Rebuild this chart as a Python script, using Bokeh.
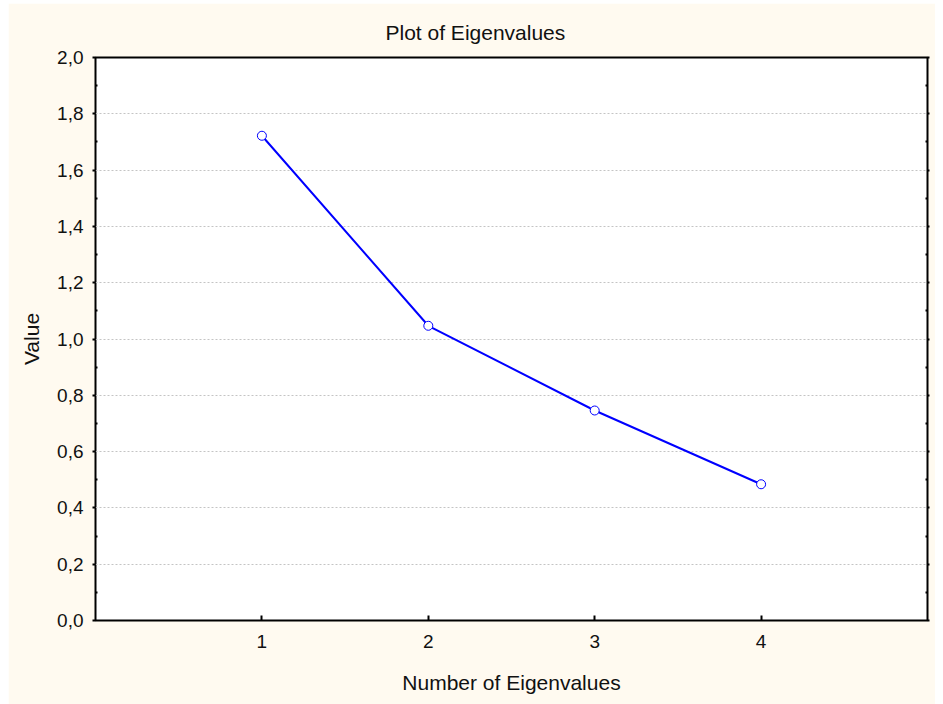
from bokeh.plotting import figure
from bokeh.models import FixedTicker, LinearAxis, CustomJSTickFormatter, Title
from bokeh.embed import file_html
from bokeh.resources import INLINE

# Data
eig_number = [1, 2, 3, 4]
eig_value = [1.722, 1.047, 0.746, 0.484]
y_ticks = [0.0, 0.2, 0.4, 0.6, 0.8, 1.0, 1.2, 1.4, 1.6, 1.8, 2.0]
y_minor = [0.1, 0.3, 0.5, 0.7, 0.9, 1.1, 1.3, 1.5, 1.7, 1.9]
x_ticks = [1, 2, 3, 4]

FONT = "Liberation Sans"
FS = "21px"
TFS = "19px"
CREAM = "#FFFAF0"

p = figure(width=927, height=701, x_range=(0, 5), y_range=(0, 2),
           output_backend="svg", toolbar_location=None,
           min_border_left=87, min_border_right=8,
           min_border_top=54, min_border_bottom=84)
p.styles = {"margin-left": "8px", "margin-top": "3px"}
p.background_fill_color = "white"
p.border_fill_color = CREAM
p.outline_line_color = "black"
p.outline_line_width = 2

t = Title(text="Plot of Eigenvalues", align="left", offset=290,
          text_font=FONT, text_font_size=FS, text_font_style="normal",
          text_color="#111111", standoff=27)
p.add_layout(t, "above")

fmt = CustomJSTickFormatter(code="return tick.toFixed(1).replace('.', ',');")

ya = p.yaxis[0]
ya.ticker = FixedTicker(ticks=y_ticks, minor_ticks=y_minor)
ya.formatter = fmt
ya.axis_line_color = None
ya.major_tick_in = 0
ya.major_tick_out = 3
ya.minor_tick_in = 2
ya.minor_tick_out = 0
ya.major_tick_line_width = 2
ya.minor_tick_line_width = 2
ya.major_label_standoff = 9
ya.major_label_text_font = FONT
ya.major_label_text_font_size = TFS
ya.major_label_text_color = "#111111"
ya.axis_label = "Value"
ya.axis_label_text_font = FONT
ya.axis_label_text_font_size = FS
ya.axis_label_text_font_style = "normal"
ya.axis_label_text_color = "#111111"
ya.axis_label_standoff = 11

ra = LinearAxis(ticker=FixedTicker(ticks=y_ticks, minor_ticks=y_minor))
ra.axis_line_color = None
ra.major_label_text_font_size = "0px"
ra.major_label_text_color = None
ra.major_tick_in = 0
ra.major_tick_out = 2
ra.minor_tick_in = 2
ra.minor_tick_out = 0
ra.major_tick_line_width = 2
ra.minor_tick_line_width = 2
p.add_layout(ra, "right")

xa = p.xaxis[0]
xa.ticker = FixedTicker(ticks=x_ticks, minor_ticks=[])
xa.axis_line_color = None
xa.major_tick_in = 5
xa.major_tick_out = 0
xa.major_tick_line_width = 2
xa.minor_tick_line_color = None
xa.major_label_standoff = 14
xa.major_label_text_font = FONT
xa.major_label_text_font_size = TFS
xa.major_label_text_color = "#111111"
xa.axis_label = "Number of Eigenvalues"
xa.axis_label_text_font = FONT
xa.axis_label_text_font_size = FS
xa.axis_label_text_font_style = "normal"
xa.axis_label_text_color = "#111111"
xa.axis_label_standoff = 20

p.xgrid.grid_line_color = None
p.ygrid.ticker = FixedTicker(ticks=y_ticks)
p.ygrid.grid_line_color = "#C4C4C4"
p.ygrid.grid_line_dash = "2 2"
p.ygrid.grid_line_width = 1

p.line(eig_number, eig_value, line_color="#0000FF", line_width=2)
p.scatter(eig_number, eig_value, marker="circle", size=9, fill_color="white",
          line_color="#0000FF", line_width=1)

open("out.html", "w").write(file_html(p, INLINE))
